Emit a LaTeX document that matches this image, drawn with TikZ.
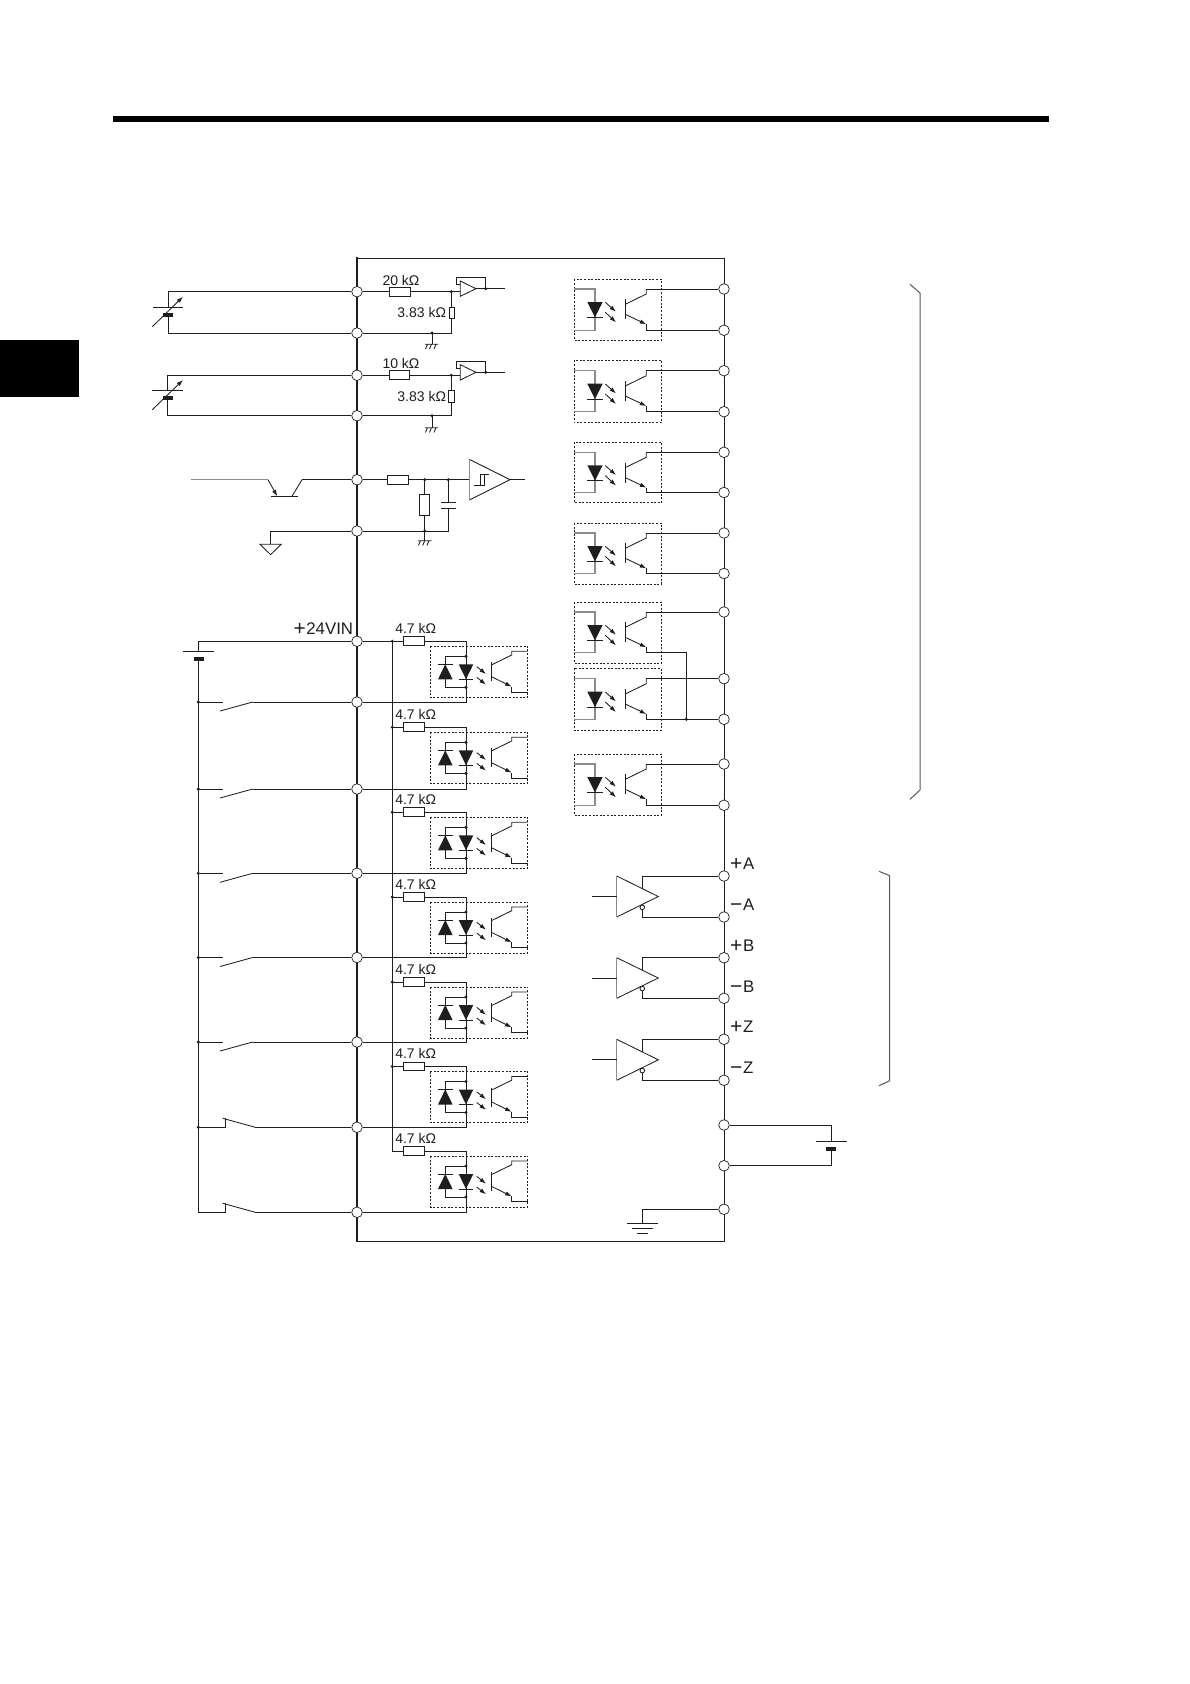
\documentclass[tikz,border=0pt]{standalone}
\usepackage{fontspec}
\setmainfont{Liberation Sans}
\usetikzlibrary{arrows.meta,calc}
\definecolor{ink}{HTML}{1E1E1E}
\definecolor{soft}{HTML}{8C8C8C}
\newcommand{\bigsign}[1]{\raisebox{-1.3pt}{\fontsize{21}{21}\selectfont #1}\kern.6pt}
\tikzset{
  wire/.style={draw=ink,line width=1pt},
  thinw/.style={draw=ink,line width=.85pt},
  softw/.style={draw=soft,line width=1.2pt},
  term/.style={circle,draw=ink,line width=.7pt,fill=white,inner sep=0pt,minimum size=10.6pt},
  res/.style={rectangle,draw=ink,line width=1pt,fill=white,inner sep=0pt,minimum width=#1},
  res/.default=21pt,
  dotbox/.style={draw=ink,line width=.9pt,dash pattern=on 2pt off 1.6pt},
  blob/.style={fill=ink,draw=none},
  lbl/.style={text=ink,font=\fontsize{14}{15}\selectfont,inner sep=0pt},
  big/.style={text=ink,font=\fontsize{16.8}{18}\selectfont,inner sep=0pt,anchor=base west},
  tip/.style={-{Latex[length=6.5pt,width=4.4pt]}},
}
% input optocoupler: #1 id, #2 y of resistor, #3 terminal
\newcommand{\inopto}[3]{%
 \begin{scope}[yshift=-#2pt]
  \node[res,minimum height=8.8pt] (IR#1) at (414,0) {};
  \node[lbl] at (415.7,-13) {4.7 kΩ};
  \draw[dotbox] (430.3,5) rectangle (527.7,56);
  \draw[wire] (392.3,0) -- (IR#1.west);
  \draw[wire] (IR#1.east) -- (466,0) |- (#3);
  \draw[thinw] (445.3,15) -- (466,15) (445.3,15) -- (445.3,46) -- (466,46);
  \fill[blob] (445.3,23) -- (438,38) -- (452.6,38) -- cycle;
  \draw[thinw] (438,23) -- (452.6,23);
  \fill[blob] (466,38) -- (458.7,23) -- (473.3,23) -- cycle;
  \draw[thinw] (458.7,38) -- (473.3,38);
  \fill[blob] (466,15) circle (1.7) (466,46) circle (1.7);
  \draw[thinw,tip] (476.7,25.3) -- (486,32.7);
  \draw[thinw,tip] (476.7,36) -- (486,43.3);
  \draw[wire] (491.3,21) -- (491.3,40);
  \draw[thinw] (491.3,23.7) -- (511.7,13.7) -- (511.7,10) -- (527.7,10);
  \draw[thinw,tip] (491.3,35.3) -- (511.7,45.3);
  \draw[thinw] (511.7,45.3) -- (511.7,50.7) -- (527.7,50.7);
 \end{scope}}
% output optocoupler: #1 T, #2 B, #3 box top, #4 box bottom
\newcommand{\outopto}[4]{%
  \draw[dotbox] (574.3,#3) rectangle (661.3,#4);
  \draw[softw] (574.3,#1) -- (595,#1) -- (595,#2) -- (574.3,#2);
  \begin{scope}[yshift=-#1pt]
   \fill[blob] (595,28.3) -- (587.3,13) -- (602.7,13) -- cycle;
   \draw[thinw] (587,28.3) -- (603,28.3);
   \draw[thinw,tip] (605.3,13.3) -- (616,22.7);
   \draw[thinw,tip] (605.3,23.3) -- (616,33.3);
   \draw[wire] (625.3,10.3) -- (625.3,30.3);
   \draw[thinw] (625.3,15.3) -- (646.3,5) -- (646.3,0);
   \draw[thinw,tip] (625.3,25.3) -- (646.3,35.3);
  \end{scope}
  \draw[thinw] ($(646.3,#1)+(0,35.3)$) -- (646.3,#2);}
% normally open switch: #1 y, #2 terminal
\newcommand{\swno}[2]{%
  \fill[blob] (198.3,#1) circle (1.7);
  \draw[wire] (198.3,#1) -- (222.7,#1);
  \draw[thinw] (220,#1+9) -- (252.7,#1);
  \draw[wire] (252.7,#1) -- (#2);}
% normally closed switch: #1 y, #2 terminal
\newcommand{\swnc}[2]{%
  \draw[wire] (198.3,#1) -- (225.3,#1) -- (225.3,#1-9);
  \draw[thinw] (222.7,#1-9) -- (225.3,#1-8.3) -- (255.3,#1);
  \draw[wire] (255.3,#1) -- (#2);}
% line driver: #1 top y, #2 bottom y, #3 top terminal, #4 bottom terminal
\newcommand{\drvr}[4]{%
  \draw[thinw] (616.7,#1) -- (658.3,#1/2+#2/2) -- (616.7,#2);
  \draw[softw] (616.7,#1) -- (616.7,#2);
  \draw[wire] (592,#1/2+#2/2) -- (616.7,#1/2+#2/2);
  \draw[wire] (642.3,#1/2+#2/2-8) -- (642.3,#1) -- (#3);
  \draw[wire] (642.3,#2-7.5) -- (642.3,#2) -- (#4);
  \draw[thinw,fill=white] (642.3,#2-9.7) circle (2.3);}
\begin{document}
\begin{tikzpicture}[x=1pt,y=-1pt]
\useasboundingbox (0,0) rectangle (1190,1684);
\fill[black] (113,116) rectangle (1049,122);
\fill[black] (0,340) rectangle (79,397);
% case
\draw[ink,line width=1pt] (357,258) -- (724,258) -- (724,1241) -- (357,1241);
\draw[ink,line width=2.2pt] (357,257.4) -- (357,1241.6);
% left terminals
\node[term] (L1) at (357,291.7) {};
\node[term] (L2) at (357,333) {};
\node[term] (L3) at (357,375.3) {};
\node[term] (L4) at (357,415.7) {};
\node[term] (L5) at (357,479.7) {};
\node[term] (L6) at (357,531) {};
\node[term] (L7) at (357,641.3) {};
\node[term] (L8) at (357,702) {};
\node[term] (L9) at (357,789) {};
\node[term] (L10) at (357,873.3) {};
\node[term] (L11) at (357,957.5) {};
\node[term] (L12) at (357,1042) {};
\node[term] (L13) at (357,1127.3) {};
\node[term] (L14) at (357,1212.3) {};
% right terminals
\node[term] (R1) at (724,289) {};
\node[term] (R2) at (724,330.3) {};
\node[term] (R3) at (724,370.7) {};
\node[term] (R4) at (724,411.7) {};
\node[term] (R5) at (724,452.3) {};
\node[term] (R6) at (724,492.5) {};
\node[term] (R7) at (724,533) {};
\node[term] (R8) at (724,573.5) {};
\node[term] (R9) at (724,612) {};
\node[term] (R10) at (724,678.7) {};
\node[term] (R11) at (724,719.3) {};
\node[term] (R12) at (724,764) {};
\node[term] (R13) at (724,805.3) {};
\node[term] (R14) at (724,876) {};
\node[term] (R15) at (724,917) {};
\node[term] (R16) at (724,957.7) {};
\node[term] (R17) at (724,998.3) {};
\node[term] (R18) at (724,1039.3) {};
\node[term] (R19) at (724,1080.3) {};
\node[term] (R20) at (724,1125) {};
\node[term] (R21) at (724,1165.7) {};
\node[term] (R22) at (724,1209.3) {};
% analog input 1
\draw[wire] (L1) -- (168.3,291.7) -- (168.3,307.3);
\draw[wire] (168.3,314.7) -- (168.3,333) -- (L2);
\draw[wire] (153,307.3) -- (183,307.3);
\fill[blob] (163.3,313) rectangle (173,316.5);
\draw[thinw,tip] (152.3,326.7) -- (183,296.7);
\node[res=21.4pt,minimum height=9pt] (A1) at (400,291.7) {};
\node[res=5.4pt,minimum height=11.4pt] (A2) at (452,313) {};
\draw[wire] (L1) -- (A1) (A1) -- (451.3,291.7) -- (451.3,307.3);
\draw[wire] (451.3,318.7) -- (451.3,333) -- (L2);
\fill[blob] (451.3,291.7) circle (1.7) (432,333) circle (1.7);
\draw[wire] (432,333) -- (432,344.3);
\draw[thinw] (425,344.3) -- (438,344.3) (427.5,344.3) -- (425.5,349) (431.5,344.3) -- (429.5,349) (436,344.3) -- (434,349);
\node[lbl] at (401,280) {20 kΩ};
\node[lbl] at (421.7,312.7) {3.83 kΩ};
\draw[wire] (451.3,291.7) -- (460.3,291.7);
\draw[thinw,fill=white] (460.3,281) -- (476,288.7) -- (460.3,296.3) -- cycle;
\draw[wire] (460.3,284.7) -- (456.7,284.7) -- (456.7,277.3) -- (485.7,277.3) -- (485.7,288.7);
\draw[wire] (476,288.7) -- (504.7,288.7);
\fill[blob] (485.7,288.7) circle (1.7);
% analog input 2
\draw[wire] (L3) -- (167.3,375.3) -- (167.3,390.3);
\draw[wire] (167.3,398) -- (167.3,415.7) -- (L4);
\draw[wire] (152,390.3) -- (183,390.3);
\fill[blob] (163,396.3) rectangle (173,399.8);
\draw[thinw,tip] (152.3,409.7) -- (183,380);
\node[res=20pt,minimum height=9pt] (B1) at (399,375.3) {};
\node[res=6.4pt,minimum height=11.4pt] (B2) at (451.5,396.3) {};
\draw[wire] (L3) -- (B1) (B1) -- (451.3,375.3) -- (451.3,390.7);
\draw[wire] (451.3,402) -- (451.3,415.7) -- (L4);
\fill[blob] (451.3,375.3) circle (1.7) (432,415.7) circle (1.7);
\draw[wire] (432,415.7) -- (432,427.7);
\draw[thinw] (425,427.7) -- (438,427.7) (427.5,427.7) -- (425.5,432.4) (431.5,427.7) -- (429.5,432.4) (436,427.7) -- (434,432.4);
\node[lbl] at (401,363.3) {10 kΩ};
\node[lbl] at (421.7,396) {3.83 kΩ};
\draw[wire] (451.3,375.3) -- (460.3,375.3);
\draw[thinw,fill=white] (460.3,364.7) -- (476,372.3) -- (460.3,380) -- cycle;
\draw[wire] (460.3,368.3) -- (456.7,368.3) -- (456.7,361.3) -- (485.7,361.3) -- (485.7,372.3);
\draw[wire] (476,372.3) -- (504.7,372.3);
\fill[blob] (485.7,372.3) circle (1.7);
% transistor input
\draw[softw] (190.7,479.7) -- (268,479.7);
\draw[thinw,tip] (268,479.7) -- (277.3,496.3);
\draw[wire] (271.3,496.3) -- (297.7,496.3);
\draw[thinw] (292,496.3) -- (302,479.7);
\draw[wire] (302,479.7) -- (L5);
\node[res=21.4pt,minimum height=9pt] (C1) at (398,479.7) {};
\node[res=10pt,minimum height=21.4pt] (C2) at (424.7,505) {};
\draw[wire] (L5) -- (C1) (C1) -- (469.3,479.7);
\draw[wire] (424.7,479.7) -- (C2) (C2) -- (424.7,531);
\draw[wire] (448.3,479.7) -- (448.3,502.7) (448.3,508.3) -- (448.3,531) -- (L6);
\draw[wire] (441,502.7) -- (455.7,502.7) (441,508.3) -- (455.7,508.3);
\fill[blob] (424.7,479.7) circle (1.7) (448.3,479.7) circle (1.7) (424.7,531) circle (1.7);
\draw[wire] (424.7,531) -- (424.7,540.7);
\draw[thinw] (418,540.7) -- (431.5,540.7) (420.5,540.7) -- (418.5,545.4) (424.7,540.7) -- (422.7,545.4) (429,540.7) -- (427,545.4);
\draw[thinw] (469.3,459.3) -- (510,479.7) -- (469.3,500);
\draw[softw] (469.3,459.3) -- (469.3,500);
\draw[wire] (510,479.7) -- (525,479.7);
\draw[thinw] (474,485.3) -- (484,485.3) -- (484,474.3) (480,485.3) -- (480,474.3) -- (488.7,474.3);
\draw[wire] (L6) -- (270.3,531) -- (270.3,544.3);
\draw[thinw] (260,544.3) -- (281.3,544.3) -- (270.6,554.7) -- cycle;
% 24 V supply and input rail
\node[big] at (293.3,634) {\bigsign{+}24VIN};
\draw[wire] (L7) -- (198.3,641.3) -- (198.3,651.3);
\draw[wire] (183,651.3) -- (213.7,651.3);
\fill[blob] (194,657.3) rectangle (204,660.8);
\draw[wire] (198.3,659) -- (198.3,1212.3);
\draw[wire] (L7) -- (392.3,641.3);
\draw[wire] (392.3,641.3) -- (392.3,1151);
\foreach \yy in {641.3,727.3,812.3,897,982,1066.5}{\fill[blob] (392.3,\yy) circle (1.7);}
\inopto{1}{641.3}{L8}
\inopto{2}{727.3}{L9}
\inopto{3}{812.3}{L10}
\inopto{4}{897}{L11}
\inopto{5}{982}{L12}
\inopto{6}{1066.5}{L13}
\inopto{7}{1151}{L14}
\swno{702}{L8}
\swno{789}{L9}
\swno{873.3}{L10}
\swno{957.5}{L11}
\swno{1042}{L12}
\fill[blob] (198.3,1127.3) circle (1.7);
\swnc{1127.3}{L13}
\swnc{1212.3}{L14}
% output optocouplers
\outopto{289}{330.3}{279.3}{340.3}
\draw[wire] (646.3,289) -- (R1); \draw[wire] (646.3,330.3) -- (R2);
\outopto{370.7}{411.7}{360.3}{422.7}
\draw[wire] (646.3,370.7) -- (R3); \draw[wire] (646.3,411.7) -- (R4);
\outopto{452.3}{492.5}{442.3}{502.8}
\draw[wire] (646.3,452.3) -- (R5); \draw[wire] (646.3,492.5) -- (R6);
\outopto{533}{573.5}{523}{584}
\draw[wire] (646.3,533) -- (R7); \draw[wire] (646.3,573.5) -- (R8);
\outopto{612}{652.7}{602.3}{663.3}
\draw[wire] (646.3,612) -- (R9); \draw[wire] (646.3,652.7) -- (686.3,652.7) -- (686.3,719.3);
\outopto{678.7}{719.3}{668.3}{730.3}
\draw[wire] (646.3,678.7) -- (R10); \draw[wire] (646.3,719.3) -- (R11);
\fill[blob] (686.3,719.3) circle (1.7);
\outopto{764}{805.3}{754.3}{815.3}
\draw[wire] (646.3,764) -- (R12); \draw[wire] (646.3,805.3) -- (R13);
% brackets
\draw[draw=ink!75,line width=1pt] (910,284.3) -- (920,293) -- (920,790) -- (910,799.3);
\draw[draw=ink!75,line width=1pt] (879,871.3) -- (889.7,875.7) -- (889.7,1080.7) -- (879,1085.7);
% line drivers
\drvr{876}{917}{R14}{R15}
\drvr{957.7}{998.3}{R16}{R17}
\drvr{1039.3}{1080.3}{R18}{R19}
\node[big] at (730,869.3) {\bigsign{+}A};
\node[big] at (730,910.3) {\bigsign{−}A};
\node[big] at (730,951) {\bigsign{+}B};
\node[big] at (730,992) {\bigsign{−}B};
\node[big] at (730,1032) {\bigsign{+}Z};
\node[big] at (730,1073.3) {\bigsign{−}Z};
% external battery
\draw[wire] (R20) -- (831.3,1125) -- (831.3,1141.3);
\draw[wire] (816,1141.3) -- (846.7,1141.3);
\fill[blob] (826,1147.3) rectangle (836,1150.8);
\draw[wire] (831.3,1149) -- (831.3,1165.7) -- (R21);
% frame ground
\draw[wire] (R22) -- (642.3,1209.3) -- (642.3,1223.3);
\draw[wire] (627,1223.3) -- (658,1223.3) (632.3,1228.3) -- (652.7,1228.3) (637,1233.3) -- (647.7,1233.3);
\end{tikzpicture}
\end{document}
